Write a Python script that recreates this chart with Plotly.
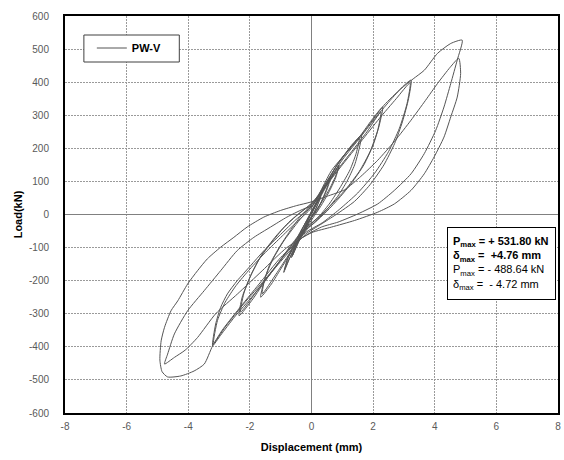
import plotly.graph_objects as go

# ---- data: displacement (mm) / load (kN), cycle by cycle ----
disp_a1 = [0, 0.1, 0.2, 0.3, 0.22, 0.1, 0, -0.1, -0.2, -0.3, -0.22, -0.1, 0, 0.1, 0.2, 0.3, 0.2, 0.1, 0, -0.15, -0.3, -0.2, -0.1, 0]
load_a1 = [0, 20, 40, 55, 35, 10, -5, -25, -45, -60, -40, -15, 5, 25, 42, 52, 30, 8, -8, -32, -58, -35, -12, 5]

disp_a2 = [0.15, 0.3, 0.45, 0.6, 0.5, 0.35, 0.2, 0, -0.2, -0.4, -0.65, -0.55, -0.4, -0.2, 0, 0.2, 0.4, 0.6, 0.48, 0.3, 0.1, -0.1, -0.35, -0.62, -0.5, -0.3, -0.1, 0]
load_a2 = [30, 60, 85, 110, 80, 45, 15, -10, -40, -80, -130, -100, -65, -25, 10, 45, 80, 105, 70, 35, 5, -20, -65, -125, -90, -50, -15, 10]

disp_a3 = [0.2, 0.45, 0.7, 0.9, 0.8, 0.6, 0.35, 0.1, -0.15, -0.45, -0.7, -0.9, -0.8, -0.6, -0.35, -0.1, 0.15, 0.45, 0.7, 0.88, 0.78, 0.55, 0.3, 0.05, -0.2, -0.5, -0.75, -0.88, -0.75, -0.5, -0.25, 0]
load_a3 = [40, 85, 120, 150, 120, 80, 40, 5, -30, -80, -130, -175, -140, -95, -50, -10, 30, 80, 120, 145, 110, 65, 25, -10, -45, -95, -140, -168, -130, -80, -35, 5]

disp_a4 = [0.2, 0.5, 0.8, 1.1, 1.35, 1.62, 1.55, 1.4, 1.15, 0.85, 0.5, 0.2, -0.1, -0.4, -0.7, -1.0, -1.3, -1.65,
           -1.55, -1.35, -1.05, -0.7, -0.35, 0, 0.3, 0.6, 0.9, 1.2, 1.55, 1.45, 1.25, 0.95, 0.6, 0.25, -0.1,
           -0.45, -0.8, -1.15, -1.6, -1.5, -1.25, -0.9, -0.5, -0.15, 0.1]
load_a4 = [40, 95, 145, 185, 215, 240, 200, 150, 100, 55, 15, -15, -40, -75, -120, -165, -210, -250,
           -205, -150, -100, -50, -5, 30, 70, 115, 160, 195, 230, 185, 135, 85, 35, -5, -35,
           -80, -130, -180, -240, -190, -135, -80, -30, 10, 35]

disp_a5 = [0.4, 0.8, 1.2, 1.6, 1.95, 2.31, 2.2, 2.0, 1.7, 1.3, 0.9, 0.5, 0.1, -0.3, -0.7, -1.1, -1.5, -1.9, -2.35,
           -2.25, -2.0, -1.7, -1.3, -0.9, -0.5, -0.1, 0.3, 0.8, 1.3, 1.8, 2.25, 2.15, 1.9, 1.55, 1.1, 0.6, 0.15,
           -0.3, -0.8, -1.3, -1.8, -2.3, -2.2, -1.95, -1.6, -1.15, -0.7, -0.25, 0.1]
load_a5 = [85, 145, 195, 240, 285, 325, 270, 210, 150, 95, 50, 10, -25, -55, -100, -150, -200, -255, -306,
           -250, -190, -135, -85, -40, -5, 25, 65, 130, 190, 250, 310, 255, 190, 130, 75, 25, -15,
           -50, -110, -175, -235, -295, -240, -180, -120, -65, -20, 15, 40]

disp_a6 = [0.5, 1.0, 1.6, 2.1, 2.6, 3.0, 3.23, 3.15, 2.95, 2.7, 2.35, 1.9, 1.4, 0.8, 0.3, -0.2,
           -0.7, -1.3, -1.9, -2.5, -2.95, -3.21, -3.11, -2.95, -2.73, -2.41, -1.98, -1.55, -1.0, -0.5, 0,
           0.5, 1.0, 1.6, 2.2, 2.75, 3.2, 3.1, 2.85, 2.5, 2.05, 1.5, 0.9, 0.35, -0.2, -0.8, -1.5, -2.2,
           -2.8, -3.18, -3.05, -2.8, -2.45, -2.0, -1.5, -0.95, -0.45, 0]
load_a6 = [95, 165, 235, 295, 350, 390, 406, 350, 280, 215, 150, 90, 40, 0, -30, -60,
           -110, -175, -245, -310, -365, -397, -331, -281, -240, -200, -155, -110, -60, -15, 25,
           90, 150, 220, 290, 350, 398, 335, 260, 190, 125, 65, 15, -25, -55, -115, -195, -270,
           -340, -390, -320, -265, -215, -165, -115, -65, -20, 20]

disp_a7 = [0.65, 1.29, 1.7, 2.35, 2.9, 3.3, 3.66, 4.09, 4.52, 4.89,
           4.73, 4.52, 4.30, 4.03, 3.66, 3.23, 2.69, 2.15, 1.51, 0.86, 0.32,
           -0.3, -1.0, -1.7, -2.4, -2.9, -3.21, -3.48, -3.81, -4.24, -4.67,
           -4.85, -4.92, -4.88, -4.77, -4.56, -4.34, -4.02, -3.70, -3.38, -2.95, -2.52, -2.09, -1.55, -1.01, -0.48, -0.05,
           0.5, 1.08, 1.6, 2.15, 2.7, 3.23, 3.7, 4.09, 4.5, 4.78,
           4.84, 4.73, 4.52, 4.30, 3.98, 3.66, 3.23, 2.69, 2.15, 1.40, 0.65, 0,
           -0.8, -1.6, -2.4, -3.11, -3.7, -4.1, -4.45, -4.77,
           -4.67, -4.45, -4.02, -3.48, -2.95, -2.41, -1.87, -1.33, -0.8, -0.3, 0]
load_a7 = [133, 204, 250, 330, 380, 410, 436, 487, 517, 527,
           467, 396, 325, 254, 184, 123, 73, 32, 2, -23, -38,
           -70, -130, -210, -290, -350, -397, -452, -473, -488, -491,
           -475, -440, -382, -341, -291, -261, -210, -170, -134, -99, -69, -38, -8, 12, 27, 37,
           55, 75, 115, 164, 222, 285, 345, 396, 445, 472,
           426, 355, 295, 234, 174, 123, 73, 32, 7, -18, -38, -55,
           -100, -170, -240, -300, -372, -410, -432, -452,
           -422, -361, -291, -230, -170, -109, -69, -38, -8, 15, 25]

disp = disp_a1 + disp_a2 + disp_a3 + disp_a4 + disp_a5 + disp_a6 + disp_a7
load = load_a1 + load_a2 + load_a3 + load_a4 + load_a5 + load_a6 + load_a7

x_ticks = [-8, -6, -4, -2, 0, 2, 4, 6, 8]
x_tick_labels = ["-8", "-6", "-4", "-2", "0", "2", "4", "6", "8"]
y_ticks = [-600, -500, -400, -300, -200, -100, 0, 100, 200, 300, 400, 500, 600]
y_tick_labels = ["-600", "-500", "-400", "-300", "-200", "-100", "0", "100", "200", "300", "400", "500", "600"]

series_name = "PW-V"
info_lines = [
    "<b>P<sub>max</sub> = + 531.80 kN</b>",
    "<b>δ<sub>max</sub> =  +4.76 mm</b>",
    "P<sub>max</sub> = - 488.64 kN",
    "δ<sub>max</sub> =  - 4.72 mm",
]

FONT = "Liberation Sans, Arial"

# page body margin is removed in post_script, so figure sits at (0, 0)
W, H = 564, 460
ML, MR, MT, MB = 65, 3, 16, 47
PW, PH = W - ML - MR, H - MT - MB


def px(xp):   # page x pixel -> paper x
    return (xp - ML) / PW


def py(yp):   # page y pixel -> paper y
    return (H - MB - yp) / PH


fig = go.Figure()
fig.add_trace(go.Scatter(
    x=disp, y=load, mode="lines", name="<b>" + series_name + "</b>",
    line=dict(color="#555555", width=1, shape="spline", smoothing=0.6),
))

grid = dict(showgrid=True, gridcolor="#9a9a9a", gridwidth=1, griddash="2px,1px",
            zeroline=True, zerolinecolor="#808080", zerolinewidth=1,
            showline=True, linecolor="black", linewidth=2, mirror=True,
            ticks="", ticklabeloverflow="allow",
            tickfont=dict(family=FONT, size=10, color="#595959"))

fig.update_xaxes(range=[-8, 8], tickvals=x_ticks, ticktext=x_tick_labels, ticklabelstandoff=3,
                 title=dict(text="<b>Displacement (mm)</b>", font=dict(family=FONT, size=11, color="black"), standoff=12),
                 **grid)
fig.update_yaxes(range=[-600, 600], tickvals=y_ticks, ticktext=y_tick_labels, ticklabelstandoff=12,
                 title=dict(text="<b>Load(kN)</b>", font=dict(family=FONT, size=11, color="black"), standoff=4),
                 **grid)

# legend box
fig.add_shape(type="rect", xref="paper", yref="paper",
              x0=px(84), x1=px(180), y0=py(62), y1=py(35),
              line=dict(color="#404040", width=1), fillcolor="white", layer="above")

fig.add_annotation(xref="paper", yref="paper", x=px(449), y=py(227),
                   xanchor="left", yanchor="top", showarrow=False, align="left", valign="middle",
                   text="<br>".join(info_lines), width=97, height=61,
                   font=dict(family=FONT, size=11, color="black"),
                   bgcolor="white", bordercolor="black", borderwidth=1, borderpad=5)

fig.update_layout(
    width=W, height=H, margin=dict(l=ML, r=MR, t=MT, b=MB),
    paper_bgcolor="white", plot_bgcolor="white",
    showlegend=True,
    legend=dict(x=px(92), y=py(48), xanchor="left", yanchor="middle",
                bgcolor="rgba(0,0,0,0)", borderwidth=0, itemwidth=30,
                font=dict(family=FONT, size=11, color="black")),
)

fig.write_html("out.html", config={"displayModeBar": False},
               post_script="document.body.style.margin='0';document.body.style.overflow='hidden';")
